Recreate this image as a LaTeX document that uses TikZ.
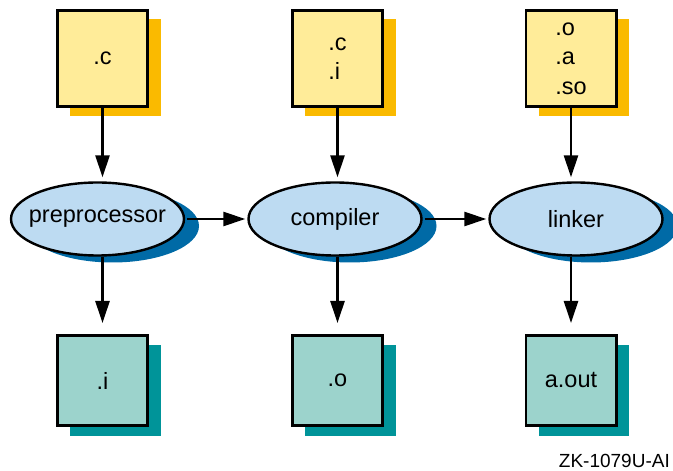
\documentclass[tikz,border=0pt]{standalone}
\usepackage{fontspec}
\setmainfont{Liberation Sans}
\usepackage{tikz}
\usetikzlibrary{positioning,arrows.meta,shapes.geometric,shadows}

\definecolor{srcfill}{HTML}{FFEC99}
\definecolor{srcshade}{HTML}{FABA00}
\definecolor{toolfill}{HTML}{BDDBF2}
\definecolor{toolshade}{HTML}{006AA6}
\definecolor{outfill}{HTML}{9CD3CC}
\definecolor{outshade}{HTML}{009499}

\begin{document}
\begin{tikzpicture}[x=1pt, y=1pt,
    label text/.style={font=\fontsize{23.5}{29.5}\selectfont},
    infile/.style={draw, line width=2.6pt, fill=srcfill, minimum width=90.4pt, minimum height=96.4pt, inner sep=0pt, align=left, label text,
        general shadow={fill=srcshade, shadow xshift=13pt, shadow yshift=-9pt}},
    outfile/.style={draw, line width=2.6pt, fill=outfill, minimum width=90.4pt, minimum height=90.4pt, inner sep=0pt, label text,
        general shadow={fill=outshade, shadow xshift=13pt, shadow yshift=-10pt}},
    tool/.style={draw, ellipse, line width=2.4pt, fill=toolfill, minimum width=173pt, minimum height=73pt, inner ysep=0pt, inner xsep=-20pt, label text,
        general shadow={fill=toolshade, shadow xshift=15pt, shadow yshift=-7pt}},
    flow/.style={-{Triangle[length=22pt, width=14pt]}, line width=2.6pt}]

    \useasboundingbox (0,0) rectangle (673,471);

    % 
    \node[infile] (src1) at (102.5,412.5) {.c};
    \node[infile] (src2) at (337.5,412.5) {.c\\.i};
    \node[infile] (src3) at (571,412.5) {.o\\.a\\.so};

    % 
    \node[tool] (pre) at (97.5,252) {preprocessor};
    \node[tool] (comp) at (335,252) {compiler};
    \node[tool] (link) at (576,252) {linker};

    % 
    \node[outfile] (out1) at (102.5,90.5) {.i};
    \node[outfile] (out2) at (337.5,90.5) {.o};
    \node[outfile] (out3) at (571,90.5) {a.out};

    \node[anchor=south east, inner sep=0pt, font=\fontsize{19}{22}\selectfont] (tag) at (670,3) {ZK-1079U-AI};

    % 
    \draw[flow, shorten >=4pt] (src1.south) -- (src1.south |- pre.north);
    \draw[flow, shorten >=4pt] (src2.south) -- (src2.south |- comp.north);
    \draw[flow, shorten >=4pt] (src3.south) -- (src3.south |- link.north);

    \draw[flow, shorten <=2pt, shorten >=2pt] (pre) -- (comp);
    \draw[flow, shorten <=2pt, shorten >=2pt] (comp) -- (link);

    \draw[flow, shorten >=11pt] (pre.south -| out1.north) -- (out1.north);
    \draw[flow, shorten >=11pt] (comp.south -| out2.north) -- (out2.north);
    \draw[flow, shorten >=11pt] (link.south -| out3.north) -- (out3.north);

\end{tikzpicture}
\end{document}
